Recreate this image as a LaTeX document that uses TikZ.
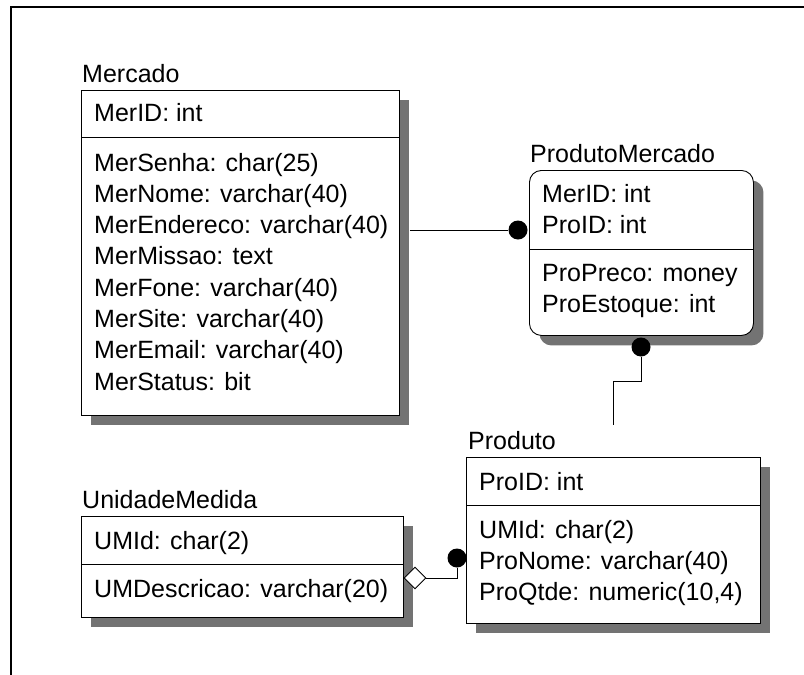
\documentclass[tikz,border=0pt]{standalone}
\usepackage{fontspec}
\setmainfont{Liberation Sans}
\usetikzlibrary{shadows,shapes.geometric}
\tikzset{
  tbl/.style={draw=black, line width=0.9pt, fill=white, inner sep=0pt, anchor=north west,
    drop shadow={shadow xshift=10pt, shadow yshift=-10pt, fill=black!55, opacity=1}},
  lbl/.style={anchor=base west, inner sep=0pt, font=\fontsize{25}{30}\selectfont},
  link/.style={line width=0.9pt},
  dot/.style={circle, fill=black, minimum size=19pt, inner sep=0pt},
  agg/.style={diamond, draw=black, fill=white, line width=0.9pt, minimum width=22pt,
    minimum height=22pt, inner sep=0pt},
}
\begin{document}
\begin{tikzpicture}[x=1pt, y=-1pt]
\useasboundingbox (0,0) rectangle (804,675);
% page frame
\draw[line width=2pt] (11,675) -- (11,7) -- (804,7);

% ---- Mercado ----
\node[lbl] (lmer) at (82,82) {Mercado};
\node[tbl, minimum width=318pt, minimum height=325pt] (mer) at (81,90) {};
\draw[link] ([yshift=-47pt]mer.north west) -- ([yshift=-47pt]mer.north east);
\node[lbl] (m0) at (94,121) {MerID: int};
\node[lbl] (m1) at (94,171.0) {MerSenha: char(25)};
\node[lbl] (m2) at (94,202.3) {MerNome: varchar(40)};
\node[lbl] (m3) at (94,233.6) {MerEndereco: varchar(40)};
\node[lbl] (m4) at (94,264.9) {MerMissao: text};
\node[lbl] (m5) at (94,296.2) {MerFone: varchar(40)};
\node[lbl] (m6) at (94,327.5) {MerSite: varchar(40)};
\node[lbl] (m7) at (94,358.8) {MerEmail: varchar(40)};
\node[lbl] (m8) at (94,390.1) {MerStatus: bit};

% ---- ProdutoMercado ----
\node[lbl] (lpm) at (530,162) {ProdutoMercado};
\node[tbl, rounded corners=12pt, minimum width=224pt, minimum height=165pt] (pm) at (529,170) {};
\draw[link] ([yshift=-79pt]pm.north west) -- ([yshift=-79pt]pm.north east);
\node[lbl] (p0) at (542,202) {MerID: int};
\node[lbl] (p1) at (542,233) {ProID: int};
\node[lbl] (p2) at (542,281) {ProPreco: money};
\node[lbl] (p3) at (542,312) {ProEstoque: int};

% ---- Produto ----
\node[lbl] (lpr) at (468,449) {Produto};
\node[tbl, minimum width=294pt, minimum height=166pt] (pr) at (466,457) {};
\draw[link] ([yshift=-48pt]pr.north west) -- ([yshift=-48pt]pr.north east);
\node[lbl] (r0) at (479,490) {ProID: int};
\node[lbl] (r1) at (479,538) {UMId: char(2)};
\node[lbl] (r2) at (479,569) {ProNome: varchar(40)};
\node[lbl] (r3) at (479,600) {ProQtde: numeric(10,4)};

% ---- UnidadeMedida ----
\node[lbl] (lum) at (82,508) {UnidadeMedida};
\node[tbl, minimum width=322pt, minimum height=101pt] (um) at (81,516) {};
\draw[link] ([yshift=-48pt]um.north west) -- ([yshift=-48pt]um.north east);
\node[lbl] (u0) at (94,549) {UMId: char(2)};
\node[lbl] (u1) at (94,597) {UMDescricao: varchar(20)};

% ---- relationships ----
\node[dot] (d1) at (518,230) {};
\draw[link] ([xshift=10pt]mer.east |- d1) -- (d1);

\coordinate (c2) at (613,425);
\node[dot] (d2) at (641,347) {};
\draw[link] (d2) -- ++(0,34) -| (c2);

\node[dot] (d3) at (457,558) {};
\node[agg] (dia) at (415,578) {};
\draw[link] (dia.east) -| (d3);
\end{tikzpicture}
\end{document}
